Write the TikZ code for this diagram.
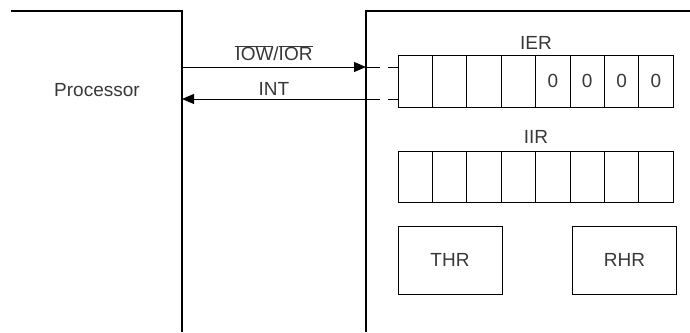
\documentclass[tikz,border=0pt]{standalone}
\usepackage{fontspec}
\setmainfont{Liberation Sans}
\usetikzlibrary{arrows.meta,positioning}
\begin{document}
\begin{tikzpicture}[x=1pt,y=-1pt,
    font=\fontsize{19}{22}\selectfont,
    every node/.style={text=black!78},
    wall/.style={line width=2.3pt},
    cell/.style={draw,line width=1pt,minimum width=34.4pt,minimum height=52pt,inner sep=0pt},
    regbox/.style={draw,line width=1pt,minimum width=104pt,minimum height=68pt},
    sig/.style={line width=1pt,-{Triangle[length=12pt,width=10pt]}}]
    \useasboundingbox (0,0) rectangle (690,332);
    \draw[wall] (11,11) -- (182,11) -- (182,332);
    \draw[wall] (690,11) -- (366,11) -- (366,332);
    \node (proc) at (97,90) {Processor};
    \coordinate (pout) at (182,67);
    \coordinate (din) at (366,67);
    \coordinate (pin) at (182,99);
    \coordinate (dout) at (366,99);
    \foreach \i in {1,...,8}
        {
            \node[cell] (ier\i) at ({398+34.4*(\i-0.5)},81) {};
            \node[cell,minimum height=51pt] (iir\i) at ({398+34.4*(\i-0.5)},176.5) {};
        }
    \foreach \i in {5,...,8}
        \node at (ier\i) {0};
    \node (ierlabel) at (536,43) {IER};
    \node (iirlabel) at (536,137) {IIR};
    \node[regbox] (thr) at (450,260) {THR};
    \node[regbox] (rhr) at (624.5,260) {RHR};
    \draw[sig] (pout) -- (din)
        node[midway,above=2pt] {$\overline{\mbox{IOW}}$/$\overline{\mbox{IOR}}$};
    \draw[sig] (dout) -- (pin) node[midway,above=0pt] {INT};
    \draw[line width=1pt,dash pattern=on 14pt off 8pt on 12pt] (din) -- (ier1.west |- din);
    \draw[line width=1pt,dash pattern=on 14pt off 8pt on 12pt] (dout) -- (ier1.west |- dout);
\end{tikzpicture}
\end{document}
